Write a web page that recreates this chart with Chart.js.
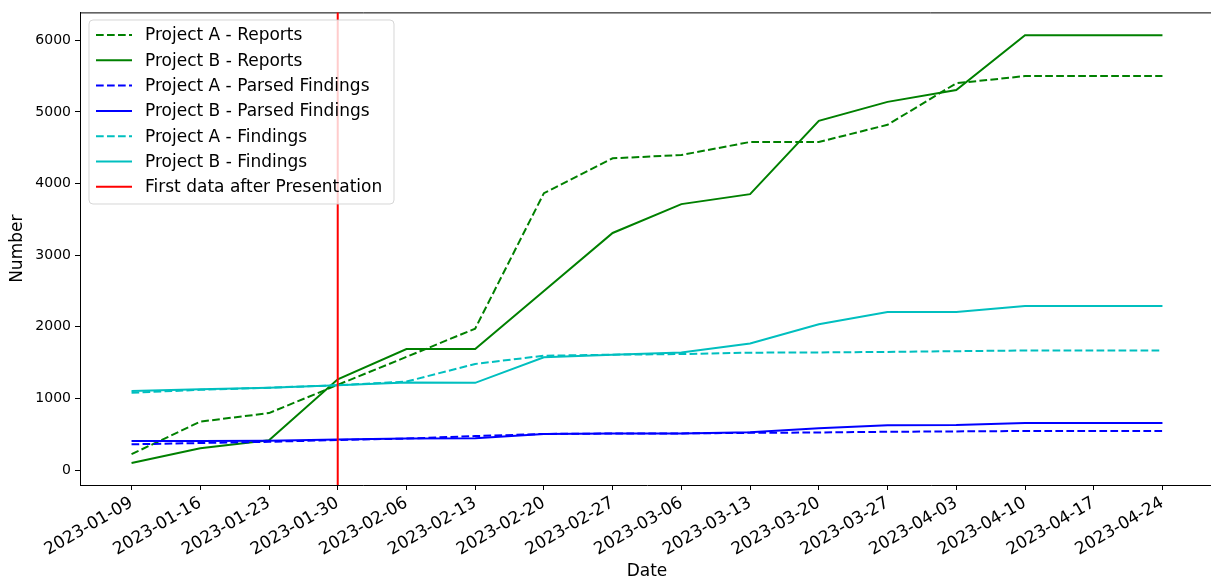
<!DOCTYPE html>
<html>
<head>
<meta charset="utf-8">
<script src="https://cdn.jsdelivr.net/npm/chart.js@4.4.0/dist/chart.umd.min.js"></script>
<style>
  html, body { margin: 0; padding: 0; background: #fff; overflow: hidden; }
  #wrap { width: 1250px; height: 583px; }
</style>
</head>
<body>
<div id="wrap"><canvas id="c" width="1250" height="583"></canvas></div>
<script>
const dates = ['2023-01-09','2023-01-16','2023-01-23','2023-01-30','2023-02-06','2023-02-13','2023-02-20','2023-02-27','2023-03-06','2023-03-13','2023-03-20','2023-03-27','2023-04-03','2023-04-10','2023-04-17','2023-04-24'];
const projectAReports = [222, 676, 796, 1190, 1580, 1975, 3866, 4352, 4398, 4580, 4580, 4820, 5400, 5500, 5500, 5500];
const projectBReports = [100, 305, 417, 1268, 1690, 1690, 2500, 3310, 3713, 3852, 4875, 5140, 5305, 6070, 6070, 6070];
const projectAParsed = [360, 378, 395, 420, 440, 475, 505, 510, 512, 520, 525, 535, 540, 546, 546, 546];
const projectBParsed = [407, 405, 410, 426, 440, 445, 505, 510, 512, 530, 585, 625, 630, 657, 657, 657];
const projectAFindings = [1080, 1120, 1150, 1185, 1236, 1482, 1597, 1611, 1620, 1639, 1643, 1650, 1660, 1670, 1670, 1670];
const projectBFindings = [1105, 1130, 1150, 1185, 1222, 1218, 1574, 1611, 1643, 1768, 2037, 2208, 2208, 2292, 2292, 2292];
const yTicks = [0, 1000, 2000, 3000, 4000, 5000, 6000];
const presentationDate = '2023-01-30';
const presentationLabel = 'First data after Presentation';

const FONT = '"DejaVu Sans", sans-serif';
const DASH = [7.7, 3.3];

function pts(arr) { return arr.map((v, i) => ({ x: i, y: v })); }

const seriesDefs = [
  { label: 'Project A - Reports', data: projectAReports, color: '#008000', dash: DASH },
  { label: 'Project B - Reports', data: projectBReports, color: '#008000', dash: [] },
  { label: 'Project A - Parsed Findings', data: projectAParsed, color: '#0000ff', dash: DASH },
  { label: 'Project B - Parsed Findings', data: projectBParsed, color: '#0000ff', dash: [] },
  { label: 'Project A - Findings', data: projectAFindings, color: '#00bfbf', dash: DASH },
  { label: 'Project B - Findings', data: projectBFindings, color: '#00bfbf', dash: [] },
];

const datasets = seriesDefs.map((s, i) => ({
  label: s.label,
  data: pts(s.data),
  borderColor: s.color,
  backgroundColor: s.color,
  borderDash: s.dash,
  borderWidth: 2,
  pointRadius: 0,
  tension: 0,
  fill: false,
  order: seriesDefs.length - i,
}));

const overlay = {
  id: 'overlay',
  afterDatasetsDraw(chart) {
    const ctx = chart.ctx;
    const a = chart.chartArea;
    const xs = chart.scales.x;
    ctx.save();
    ctx.strokeStyle = '#000';
    ctx.lineWidth = 1;
    ctx.beginPath();
    ctx.moveTo(a.left, a.top + 0.5);
    ctx.lineTo(a.right, a.top + 0.5);
    ctx.stroke();
    const px = xs.getPixelForValue(dates.indexOf(presentationDate));
    ctx.strokeStyle = '#ff0000';
    ctx.lineWidth = 2;
    ctx.beginPath();
    ctx.moveTo(px, a.top);
    ctx.lineTo(px, a.bottom);
    ctx.stroke();

    const entries = seriesDefs.map(s => ({ label: s.label, color: s.color, dash: s.dash }));
    entries.push({ label: presentationLabel, color: '#ff0000', dash: [] });
    const bx = 89, by = 20, bw = 305, bh = 184, r = 4;
    ctx.beginPath();
    ctx.moveTo(bx + r, by);
    ctx.lineTo(bx + bw - r, by);
    ctx.quadraticCurveTo(bx + bw, by, bx + bw, by + r);
    ctx.lineTo(bx + bw, by + bh - r);
    ctx.quadraticCurveTo(bx + bw, by + bh, bx + bw - r, by + bh);
    ctx.lineTo(bx + r, by + bh);
    ctx.quadraticCurveTo(bx, by + bh, bx, by + bh - r);
    ctx.lineTo(bx, by + r);
    ctx.quadraticCurveTo(bx, by, bx + r, by);
    ctx.closePath();
    ctx.fillStyle = 'rgba(255,255,255,0.8)';
    ctx.fill();
    ctx.strokeStyle = 'rgba(204,204,204,0.8)';
    ctx.lineWidth = 1;
    ctx.stroke();

    ctx.font = '17px ' + FONT;
    ctx.textBaseline = 'middle';
    ctx.textAlign = 'left';
    entries.forEach((e, i) => {
      const y = 35 + i * 25.3;
      ctx.strokeStyle = e.color;
      ctx.lineWidth = 2;
      ctx.setLineDash(e.dash);
      ctx.beginPath();
      ctx.moveTo(96, y);
      ctx.lineTo(132, y);
      ctx.stroke();
      ctx.setLineDash([]);
      ctx.fillStyle = '#000';
      ctx.fillText(e.label, 145, y + 1);
    });
    ctx.restore();
  }
};

new Chart(document.getElementById('c'), {
  type: 'line',
  data: { datasets },
  options: {
    responsive: false,
    animation: false,
    layout: { padding: { top: 10, right: 36, bottom: 0, left: 0 } },
    plugins: { legend: { display: false }, tooltip: { enabled: false } },
    scales: {
      x: {
        type: 'linear',
        min: -0.75,
        max: 15.75,
        afterBuildTicks(axis) { axis.ticks = dates.map((_, i) => ({ value: i })); },
        afterFit(axis) { axis.height = 98; },
        ticks: {
          autoSkip: false,
          includeBounds: false,
          minRotation: 30,
          maxRotation: 30,
          padding: 3,
          color: '#000',
          font: { family: FONT, size: 17 },
          callback: (v) => dates[v] ?? '',
        },
        grid: { drawOnChartArea: false, drawTicks: true, tickLength: 5, color: '#000' },
        border: { display: true, color: '#000', width: 1 },
        title: { display: true, text: 'Date', color: '#000', font: { family: FONT, size: 17 }, padding: { top: 0, bottom: 1 } },
      },
      y: {
        type: 'linear',
        min: -208,
        max: 6389,
        afterBuildTicks(axis) { axis.ticks = yTicks.map(v => ({ value: v })); },
        afterFit(axis) { axis.width = 80; },
        ticks: {
          includeBounds: false,
          padding: 4,
          color: '#000',
          font: { family: FONT, size: 14 },
          callback: (v) => String(v),
        },
        grid: { drawOnChartArea: false, drawTicks: true, tickLength: 5, color: '#000' },
        border: { display: true, color: '#000', width: 1 },
        title: { display: true, text: 'Number', color: '#000', font: { family: FONT, size: 17 }, padding: { top: 7, bottom: 0 } },
      }
    }
  },
  plugins: [overlay]
});
</script>
</body>
</html>
